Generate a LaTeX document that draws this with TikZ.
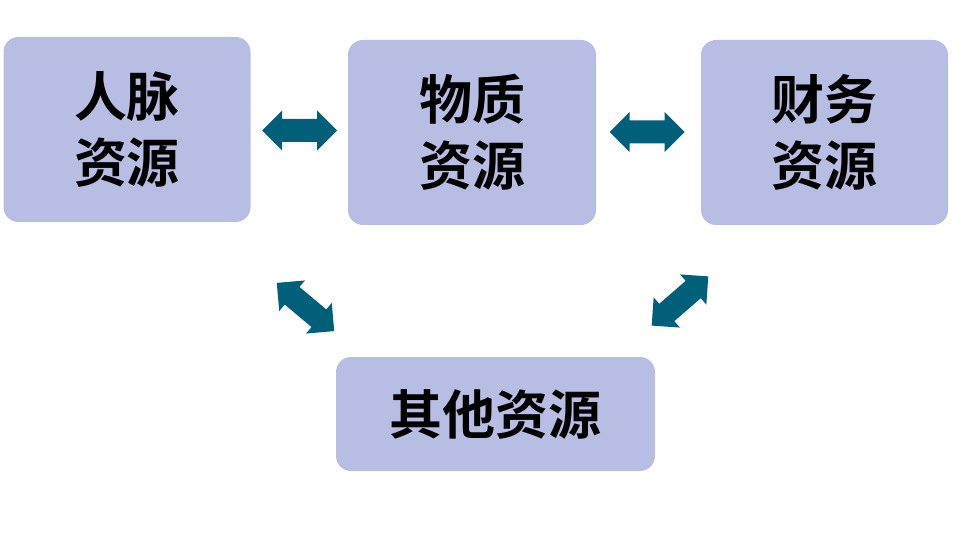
\documentclass[tikz,border=0pt]{standalone}
\usepackage{fontspec}
\newfontfamily\cjkbold{Noto Sans CJK SC Bold}
\usetikzlibrary{calc}
\definecolor{boxfill}{RGB}{184,189,227}
\definecolor{arrowteal}{RGB}{0,96,122}
\tikzset{
  resbox/.style={draw=none, fill=boxfill, rounded corners=15pt, align=center,
    inner sep=0pt, font=\cjkbold\fontsize{53}{66}\selectfont, text=black},
  dblarrow/.pic={
    \fill[arrowteal] (-37.5,0) -- (-17.5,20) -- (-17.5,11.5) -- (17.5,11.5) -- (17.5,20)
      -- (37.5,0) -- (17.5,-20) -- (17.5,-11.5) -- (-17.5,-11.5) -- (-17.5,-20) -- cycle;
  }
}
\begin{document}
\begin{tikzpicture}[x=1pt,y=-1pt]
\useasboundingbox (0,0) rectangle (970,556);
\fill[white] (0,0) rectangle (970,556);
\node[resbox, minimum width=247pt, minimum height=185pt] (rm) at (127,129.5) {人脉\\资源};
\node[resbox, minimum width=248pt, minimum height=185pt] (wz) at (472,132.5) {物质\\资源};
\node[resbox, minimum width=247pt, minimum height=185pt] (cw) at (824.5,132.5) {财务\\资源};
\node[resbox, minimum width=319pt, minimum height=114pt] (qt) at (495.5,414) {其他资源};
\coordinate (a1) at (299.5,130.5);
\coordinate (a2) at (647,132);
\coordinate (a3) at (305.5,307);
\coordinate (a4) at (680,301);
\pic at (a1) {dblarrow};
\pic at (a2) {dblarrow};
\pic[rotate=-40] at (a3) {dblarrow};
\pic[rotate=41] at (a4) {dblarrow};
\end{tikzpicture}
\end{document}
